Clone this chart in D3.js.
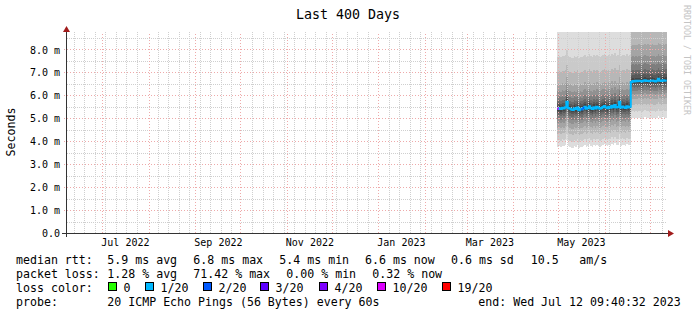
<!DOCTYPE html>
<html lang="en">
<head>
  <meta charset="UTF-8">
  <title>Last 400 Days</title>
  <script src="https://d3js.org/d3.v7.min.js"></script>
  <style>
    body { margin: 0; background: #fff; }
    text { font-family: "DejaVu Sans Mono", monospace; fill: #000; }
  </style>
</head>
<body>
  <svg id="chart" width="697" height="315"></svg>
  <script>
    // time range of the graph
    const endTime = new Date(2023, 6, 12, 9, 40, 32);
    const startTime = new Date(endTime.getTime() - 400 * 864e5);

    const xLabelDates = [new Date(2022, 6, 16), new Date(2022, 8, 16), new Date(2022, 10, 16),
                         new Date(2023, 0, 16), new Date(2023, 2, 16), new Date(2023, 4, 16)];
    const xLabels = ["Jul 2022", "Sep 2022", "Nov 2022", "Jan 2023", "Mar 2023", "May 2023"];
    const yTicks = [0, 1, 2, 3, 4, 5, 6, 7, 8];

    // first block of measurements (daily median rtt in ms, lost pings of 20)
    const seg1Start = new Date(2023, 3, 30, 6);
    const seg1Median = [5.42, 5.44, 5.40, 5.46, 5.43, 5.48, 5.72, 5.45, 5.41, 5.38,
                        5.36, 5.44, 5.40, 5.47, 5.35, 5.42, 5.39, 5.45, 5.50, 5.41,
                        5.46, 5.52, 5.44, 5.40, 5.48, 5.43, 5.50, 5.46, 5.41, 5.45,
                        5.49, 5.53, 5.47, 5.44, 5.50, 5.46, 5.55, 5.48, 5.58, 5.47,
                        5.49, 5.72, 5.46, 5.51, 5.48, 5.45, 5.52, 5.47, 5.50];
    const seg1Loss = [10, 1, 1, 1, 1, 1, 1, 1, 1, 1, 1, 1, 1, 1, 1, 1, 2, 2, 1, 1,
                      1, 1, 1, 1, 1, 1, 1, 1, 1, 1, 1, 1, 1, 1, 1, 1, 1, 1, 1, 1,
                      1, 1, 1, 1, 1, 1, 1, 1, 1];
    // typical sorted 20 pings of a column (ms)
    const seg1Pings = [3.78, 4.05, 4.35, 4.60, 4.82, 4.98, 5.12, 5.24, 5.33, 5.40,
                       5.47, 5.56, 5.66, 5.78, 5.95, 6.20, 6.50, 7.05, 7.70, 12.0];

    // second block after the route change
    const seg2Start = new Date(2023, 5, 18, 6);
    const seg2Median = [6.58, 6.62, 6.60, 6.63, 6.61, 6.64, 6.62, 6.60, 6.63, 6.66,
                        6.62, 6.64, 6.61, 6.63, 6.65, 6.62, 6.60, 6.63, 6.72, 6.64,
                        6.62, 6.66, 6.63, 6.65];
    const seg2Loss = [1, 1, 1, 1, 1, 1, 1, 1, 1, 1, 1, 1, 1, 1, 1, 1, 1, 1, 1, 1,
                      1, 1, 1, 1];
    const seg2Pings = [5.00, 5.30, 5.60, 5.85, 6.05, 6.20, 6.35, 6.45, 6.53, 6.58,
                       6.66, 6.75, 6.90, 7.10, 7.35, 7.70, 8.20, 8.90, 9.80, 12.0];

    const lossLabels = ["0", "1/20", "2/20", "3/20", "4/20", "10/20", "19/20"];
    const lossSteps = [0, 1, 2, 3, 4, 10, 19];
    const lossColors = ["#26ff00", "#00b8ff", "#0059ff", "#5e00ff", "#7e00ff", "#dd00ff", "#ff0000"];

    const rttLegend = ["median rtt:", "5.9 ms avg", "6.8 ms max", "5.4 ms min", "6.6 ms now", "0.6 ms sd", "10.5", "am/s"];
    const lossLegend = ["packet loss:", "1.28 % avg", "71.42 % max", "0.00 % min", "0.32 % now"];
    const probeLegend = ["probe:", "20 ICMP Echo Pings (56 Bytes) every 60s", "end: Wed Jul 12 09:40:32 2023"];

    const plot = { left: 67, right: 667, top: 32, bottom: 233 };

    const svg = d3.select("#chart");

    const x = d3.scaleTime().domain([startTime, endTime]).range([plot.left, plot.right]);
    const y = d3.scaleLinear().domain([0, 8.76]).range([plot.bottom, plot.top]);

    function lossColor(n) {
      let c = lossColors[0];
      lossSteps.forEach((s, i) => { if (n >= s) c = lossColors[i]; });
      return c;
    }

    // build the daily series
    const days = [];
    function addBlock(start, med, loss, pings) {
      const ref = d3.median(pings);
      med.forEach((m, i) => {
        days.push({
          date: d3.timeDay.offset(start, i),
          end: d3.timeDay.offset(start, i + 1),
          median: m,
          loss: loss[i],
          pings: pings.map(p => p + m - ref)
        });
      });
    }
    addBlock(seg1Start, seg1Median, seg1Loss, seg1Pings);
    addBlock(seg2Start, seg2Median, seg2Loss, seg2Pings);
    const last = days[days.length - 1];
    const series = days.concat([{ date: d3.min([last.end, endTime]), median: last.median, pings: last.pings }]);

    svg.append("defs").append("clipPath").attr("id", "clip")
      .append("rect")
      .attr("x", plot.left).attr("y", plot.top)
      .attr("width", plot.right - plot.left).attr("height", plot.bottom - plot.top);

    // smoke: 10 nested bands, outer ones lighter
    const smoke = svg.append("g").attr("clip-path", "url(#clip)");
    for (let i = 0; i < 10; i++) {
      const shade = 19 * (9 - i) + 50;
      const area = d3.area()
        .x(d => x(d.date))
        .y0(d => y(d.pings[i]))
        .y1(d => y(d.pings[19 - i]))
        .curve(d3.curveStepAfter);
      smoke.append("path")
        .datum(series)
        .attr("d", area)
        .attr("fill", d3.rgb(shade, shade, shade))
        .attr("shape-rendering", "crispEdges");
    }

    // grid
    const grid = svg.append("g").attr("shape-rendering", "crispEdges");
    const months = d3.timeMonth.range(startTime, endTime);
    const weeks = d3.timeSunday.range(startTime, endTime)
      .filter(w => !months.some(m => Math.abs(x(m) - x(w)) < 2));
    const minorY = d3.range(0.5, 8.76, 1);
    const minorColor = "#cfcfcf";
    const majorColor = "#eeaaaa";

    grid.selectAll(".vminor").data(weeks).enter().append("line")
      .attr("x1", d => Math.round(x(d)) + 0.5).attr("x2", d => Math.round(x(d)) + 0.5)
      .attr("y1", plot.bottom).attr("y2", plot.top)
      .attr("stroke", minorColor).attr("stroke-dasharray", "1,1");
    grid.selectAll(".hminor").data(minorY).enter().append("line")
      .attr("x1", plot.left).attr("x2", plot.right)
      .attr("y1", d => Math.round(y(d)) + 0.5).attr("y2", d => Math.round(y(d)) + 0.5)
      .attr("stroke", minorColor).attr("stroke-dasharray", "1,1");
    grid.selectAll(".vmajor").data(months).enter().append("line")
      .attr("x1", d => Math.round(x(d)) + 0.5).attr("x2", d => Math.round(x(d)) + 0.5)
      .attr("y1", plot.bottom).attr("y2", plot.top)
      .attr("stroke", majorColor).attr("stroke-dasharray", "1,2");
    grid.selectAll(".hmajor").data(yTicks.slice(1)).enter().append("line")
      .attr("x1", plot.left - 3).attr("x2", plot.right)
      .attr("y1", d => Math.round(y(d)) + 0.5).attr("y2", d => Math.round(y(d)) + 0.5)
      .attr("stroke", majorColor).attr("stroke-dasharray", "1,2");

    // median line coloured by loss
    const medianLine = d3.line()
      .x(d => x(d.date))
      .y(d => y(d.median))
      .curve(d3.curveStepAfter);
    svg.append("path")
      .datum(series)
      .attr("d", medianLine)
      .attr("fill", "none")
      .attr("stroke", lossColors[1])
      .attr("stroke-width", 2)
      .attr("clip-path", "url(#clip)");
    svg.selectAll(".loss").data(days.filter(d => d.loss !== 1)).enter().append("rect")
      .attr("x", d => x(d.date))
      .attr("width", d => x(d.end) - x(d.date))
      .attr("y", d => y(d.median) - 1)
      .attr("height", 2)
      .attr("fill", d => lossColor(d.loss));

    // axes
    const axisColor = "#333";
    svg.append("line")
      .attr("x1", plot.left - 5).attr("x2", plot.right + 4)
      .attr("y1", plot.bottom + 0.5).attr("y2", plot.bottom + 0.5)
      .attr("stroke", axisColor);
    svg.append("line")
      .attr("x1", plot.left - 0.5).attr("x2", plot.left - 0.5)
      .attr("y1", plot.bottom + 4).attr("y2", plot.top - 3)
      .attr("stroke", axisColor);
    svg.append("path")
      .attr("d", `M${plot.right + 7},${plot.bottom + 0.5}l-6,-3.5v7z`)
      .attr("fill", "#a11c1c");
    svg.append("path")
      .attr("d", `M${plot.left - 0.5},${plot.top - 6}l-3.5,6h7z`)
      .attr("fill", "#a11c1c");

    const xAxis = d3.axisBottom(x)
      .tickValues(xLabelDates)
      .tickFormat((d, i) => xLabels[i])
      .tickSize(0)
      .tickPadding(0);
    const gx = svg.append("g")
      .attr("transform", `translate(0,${plot.bottom})`)
      .call(xAxis);
    gx.select(".domain").remove();
    gx.selectAll("text")
      .attr("y", 13).attr("dy", null)
      .style("font-family", '"DejaVu Sans Mono", monospace')
      .style("font-size", "10px");

    const yAxis = d3.axisLeft(y)
      .tickValues(yTicks)
      .tickFormat(d => d === 0 ? "0.0" : d.toFixed(1) + " m")
      .tickSize(0)
      .tickPadding(0);
    const gy = svg.append("g")
      .attr("transform", `translate(${plot.left - 7},0)`)
      .call(yAxis);
    gy.select(".domain").remove();
    gy.selectAll("text")
      .attr("dy", "0.36em")
      .style("font-family", '"DejaVu Sans Mono", monospace')
      .style("font-size", "10px");

    // titles
    svg.append("text")
      .attr("x", 348).attr("y", 18.5)
      .attr("text-anchor", "middle")
      .style("font-size", "13.3px")
      .text("Last 400 Days");
    svg.append("text")
      .attr("transform", "translate(15,132) rotate(-90)")
      .attr("text-anchor", "middle")
      .style("font-size", "11.6px")
      .text("Seconds");
    svg.append("text")
      .attr("transform", "translate(684,5) rotate(90)")
      .attr("textLength", 110)
      .attr("lengthAdjust", "spacingAndGlyphs")
      .style("font-size", "9px")
      .style("fill", "#c4c4c4")
      .text("RRDTOOL / TOBI OETIKER");

    // legend
    const legend = svg.append("g").style("font-size", "11.6px");
    const rttX = [16, 107.3, 193.3, 279.3, 365, 451, 530.7, 579.3];
    const lossX = [16, 107.3, 193.3, 286.3, 372.3];
    const probeX = [16, 107.3, 478.3];
    legend.selectAll(".rtt").data(rttLegend).enter().append("text")
      .attr("x", (d, i) => rttX[i]).attr("y", 263.5).text(d => d);
    legend.selectAll(".pl").data(lossLegend).enter().append("text")
      .attr("x", (d, i) => lossX[i]).attr("y", 277.5).text(d => d);
    legend.append("text").attr("x", 16).attr("y", 291.5).text("loss color:");
    const boxX = [108.5, 145.5, 203.5, 260.5, 319.5, 377.5, 442.5];
    const colorItems = legend.selectAll(".lc").data(lossLabels).enter().append("g");
    colorItems.append("rect")
      .attr("x", (d, i) => boxX[i]).attr("y", 282.5)
      .attr("width", 8).attr("height", 8)
      .attr("fill", (d, i) => lossColors[i])
      .attr("stroke", "#000");
    colorItems.append("text")
      .attr("x", (d, i) => boxX[i] + 15).attr("y", 291.5)
      .text(d => d);
    legend.selectAll(".pr").data(probeLegend).enter().append("text")
      .attr("x", (d, i) => probeX[i]).attr("y", 305.5).text(d => d);
  </script>
</body>
</html>
